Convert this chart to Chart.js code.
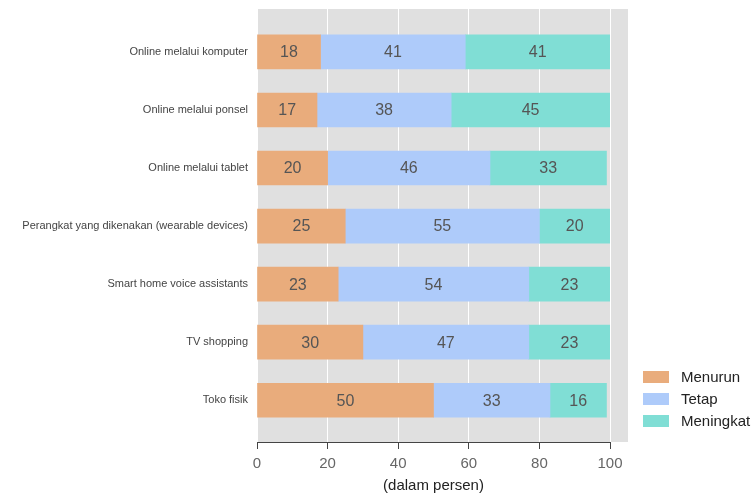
<!DOCTYPE html>
<html>
<head>
<meta charset="utf-8">
<script src="https://cdn.jsdelivr.net/npm/chart.js@4.4.1/dist/chart.umd.min.js"></script>
<style>
  html, body { margin: 0; padding: 0; background: #fff; }
  #wrap { width: 751px; height: 493px; }
</style>
</head>
<body>
<div id="wrap"><canvas id="myChart"></canvas></div>
<script>
var categories = [
    'Online melalui komputer',
    'Online melalui ponsel',
    'Online melalui tablet',
    'Perangkat yang dikenakan (wearable devices)',
    'Smart home voice assistants',
    'TV shopping',
    'Toko fisik'
];
var menurun = [18, 17, 20, 25, 23, 30, 50];
var tetap = [41, 38, 46, 55, 54, 47, 33];
var meningkat = [41, 45, 33, 20, 23, 23, 16];
var xTicks = [0, 20, 40, 60, 80, 100];

var FONT = "'Liberation Sans', Arial, sans-serif";

// rows sit on a numeric axis so the grey panel can run past the first and last bar
function rows(values) {
    return values.map(function (v, i) { return { x: v, y: i }; });
}

// grey panel behind the bars, a bit wider than the 0-100 range
var panelBg = {
    id: 'panelBg',
    beforeDraw: function (chart) {
        var a = chart.chartArea, c = chart.ctx;
        c.save();
        c.fillStyle = '#e0e0e0';
        c.fillRect(a.left, a.top, a.right - a.left + 18, a.bottom - a.top);
        c.restore();
    }
};

// value written in the middle of each segment
var segmentLabels = {
    id: 'segmentLabels',
    afterDatasetsDraw: function (chart) {
        var c = chart.ctx;
        c.save();
        c.font = '16px ' + FONT;
        c.fillStyle = '#555';
        c.textAlign = 'center';
        c.textBaseline = 'middle';
        chart.data.datasets.forEach(function (ds, di) {
            chart.getDatasetMeta(di).data.forEach(function (bar, i) {
                c.fillText(ds.data[i].x, (bar.x + bar.base) / 2, bar.y + 1);
            });
        });
        c.restore();
    }
};

// legend stacked in the lower right corner
var sideLegend = {
    id: 'sideLegend',
    afterDraw: function (chart) {
        var a = chart.chartArea, c = chart.ctx;
        var sets = chart.data.datasets;
        var x = a.right + 33;
        var y0 = a.bottom - 21 - (sets.length - 1) * 22;
        c.save();
        c.font = '15px ' + FONT;
        c.textBaseline = 'middle';
        sets.forEach(function (ds, i) {
            var y = y0 + i * 22;
            c.fillStyle = ds.backgroundColor;
            c.fillRect(x, y - 6, 26, 12);
            c.fillStyle = '#222';
            c.fillText(ds.label, x + 38, y + 1);
        });
        c.restore();
    }
};

var ctx = document.getElementById('myChart').getContext('2d');
var myChart = new Chart(ctx, {
    type: 'bar',
    data: {
        datasets: [
            { label: 'Menurun', data: rows(menurun), backgroundColor: '#e9ac7c' },
            { label: 'Tetap', data: rows(tetap), backgroundColor: '#aecbfa' },
            { label: 'Meningkat', data: rows(meningkat), backgroundColor: '#80ded5' }
        ]
    },
    plugins: [panelBg, segmentLabels, sideLegend],
    options: {
        indexAxis: 'y',
        responsive: true,
        maintainAspectRatio: false,
        animation: false,
        barThickness: 34,
        layout: { padding: { top: 9, right: 141, bottom: 0, left: 0 } },
        plugins: {
            legend: { display: false },
            tooltip: { enabled: false }
        },
        scales: {
            x: {
                stacked: true,
                min: 0,
                max: 100,
                afterBuildTicks: function (axis) {
                    axis.ticks = xTicks.map(function (v) { return { value: v }; });
                },
                afterFit: function (axis) { axis.height = 51; },
                grid: {
                    color: '#ffffff',
                    tickColor: '#444',
                    tickLength: 7,
                    lineWidth: 1
                },
                border: { color: '#444', width: 1 },
                ticks: {
                    padding: 6,
                    color: '#666',
                    font: { family: FONT, size: 15 },
                    maxRotation: 0
                },
                title: {
                    display: true,
                    text: '(dalam persen)',
                    color: '#222',
                    font: { family: FONT, size: 15, lineHeight: 1 },
                    padding: { top: 0, bottom: 0 }
                }
            },
            y: {
                type: 'linear',
                stacked: true,
                reverse: true,
                offset: false,
                min: -0.74,
                max: 6.72,
                afterFit: function (axis) {
                    axis.width = 257;
                    axis.paddingTop = 0;
                    axis.paddingBottom = 0;
                },
                grid: { display: false, drawTicks: false },
                border: { display: false },
                ticks: {
                    stepSize: 1,
                    autoSkip: false,
                    padding: 9,
                    color: '#444',
                    font: { family: FONT, size: 11 },
                    callback: function (v) {
                        return Number.isInteger(v) ? categories[v] : '';
                    }
                }
            }
        }
    }
});
</script>
</body>
</html>
